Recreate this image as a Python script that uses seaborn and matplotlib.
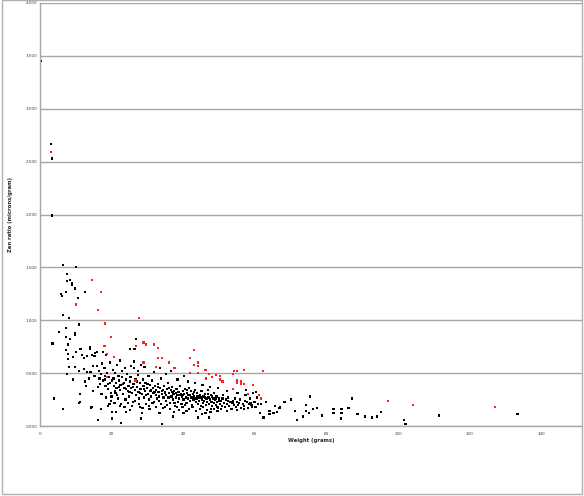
import numpy as np
import pandas as pd
import matplotlib
matplotlib.use("Agg")
import matplotlib.pyplot as plt
import seaborn as sns
from matplotlib.patches import Rectangle

# black points: sparse upper part and outliers
black_top_x = [0.3, 3.1, 3.4, 3.4, 6.4, 10.0, 7.6, 7.5, 8.4, 9.0, 8.9, 9.8, 7.3, 12.6, 5.8, 6.2, 10.6,
               6.4, 8.0, 11.0, 7.3, 5.3, 9.7, 9.8, 7.2, 8.4, 3.5, 7.8, 7.3, 10.1, 7.9, 7.9, 9.3, 12.2,
               11.3, 11.7, 14.0, 14.0, 13.1, 14.6, 15.2, 16.0, 17.7, 18.5, 15.4, 8.2, 9.7, 11.0, 12.3,
               14.9, 15.9, 17.3, 13.1, 14.1, 7.6, 9.3, 12.5, 13.7, 15.2, 16.6, 12.8, 14.7, 16.3, 16.8,
               18.2, 11.1, 3.9, 11.1, 26.9, 25.1, 26.4]
black_top_y = [3.45, 2.67, 2.53, 1.99, 1.52, 1.50, 1.44, 1.37, 1.38, 1.35, 1.33, 1.30, 1.27, 1.27, 1.25, 1.23, 1.21,
               1.05, 1.02, 0.96, 0.93, 0.89, 0.88, 0.86, 0.84, 0.82, 0.78, 0.77, 0.72, 0.70, 0.68, 0.63, 0.65, 0.64,
               0.73, 0.67, 0.75, 0.73, 0.66, 0.67, 0.66, 0.70, 0.70, 0.67, 0.69, 0.56, 0.56, 0.52, 0.54,
               0.57, 0.57, 0.59, 0.51, 0.51, 0.49, 0.44, 0.42, 0.45, 0.47, 0.45, 0.38, 0.33, 0.37, 0.40,
               0.44, 0.30, 0.26, 0.23, 0.82, 0.73, 0.73]

# black points: low band and right tail
black_low_x = [14.3, 6.4, 17.1, 19.4, 20.1, 21.3, 16.1, 20.2, 20.0, 21.0, 11.0, 14.4, 16.2, 19.0, 22.7, 22.3,
               24.1, 25.2, 28.2, 28.4, 27.9, 30.6, 33.4, 34.1, 35.0, 37.1, 37.4, 38.2, 40.1, 40.9, 44.1,
               45.2, 46.2, 47.3, 47.8, 49.6, 52.2, 55.1, 56.9, 58.5, 61.5, 62.4, 61.7, 59.9, 59.2, 59.2,
               62.3, 63.1, 64.1, 64.1, 65.7, 65.2, 66.2, 66.9, 67.1, 68.3, 70.1, 71.2, 71.8, 73.5, 74.2,
               74.2, 75.2, 75.5, 76.2, 77.4, 78.8, 82.0, 82.0, 84.2, 84.2, 84.1, 86.2, 87.2, 88.7, 90.8,
               92.7, 94.2, 95.2, 101.6, 102.1, 111.4, 133.4]
black_low_y = [0.17, 0.16, 0.16, 0.21, 0.13, 0.13, 0.06, 0.07, 0.28, 0.33, 0.22, 0.18, 0.06, 0.19, 0.03, 0.19,
               0.13, 0.15, 0.07, 0.12, 0.18, 0.16, 0.12, 0.02, 0.18, 0.09, 0.13, 0.18, 0.12, 0.14, 0.08,
               0.11, 0.12, 0.08, 0.16, 0.18, 0.14, 0.15, 0.16, 0.21, 0.12, 0.08, 0.21, 0.23, 0.20, 0.18,
               0.08, 0.23, 0.14, 0.11, 0.19, 0.12, 0.13, 0.17, 0.18, 0.23, 0.25, 0.14, 0.06, 0.09, 0.20,
               0.14, 0.12, 0.28, 0.16, 0.17, 0.10, 0.16, 0.12, 0.16, 0.12, 0.07, 0.17, 0.26, 0.11, 0.09,
               0.08, 0.09, 0.13, 0.06, 0.02, 0.10, 0.11]

# black points: main cluster
black_mid_x = [16.5, 17.0, 17.6, 18.0, 18.3, 18.8, 19.0, 19.3, 19.6, 19.9, 20.3, 20.5, 20.7, 21.0, 21.2, 21.4,
               21.6, 21.9, 22.1, 22.3, 22.5, 22.8, 23.0, 23.2, 23.4, 23.6, 23.9, 24.1, 24.3, 24.5, 24.7,
               24.9, 25.1, 25.3, 25.5, 25.7, 25.9, 26.1, 26.3, 26.5, 26.7, 26.9, 27.1, 27.3, 27.5, 27.7,
               27.9, 28.1, 28.3, 28.5, 28.7, 28.9, 29.1, 29.3, 29.5, 29.7, 29.9, 30.1, 30.3, 30.5, 30.7,
               30.9, 31.1, 31.3, 31.5, 31.7, 31.9, 32.1, 32.3, 32.5, 32.7, 32.9, 33.1, 33.3, 33.5, 33.7,
               33.9, 34.1, 34.3, 34.5, 34.7, 34.9, 35.1, 35.3, 35.5, 35.7, 35.9, 36.1, 36.3, 36.5, 36.7,
               36.9, 37.1, 37.3, 37.5, 37.7, 37.9, 38.1, 38.3, 38.5, 38.7, 38.9, 39.1, 39.3, 39.5, 39.7,
               39.9, 40.1, 40.3, 40.5, 40.7, 40.9, 41.1, 41.3, 41.5, 41.7, 41.9, 42.1, 42.3, 42.5, 42.7,
               42.9, 43.1, 43.3, 43.5, 43.7, 43.9, 44.1, 44.3, 44.5, 44.7, 44.9, 45.1, 45.3, 45.5, 45.7,
               45.9, 46.1, 46.3, 46.5, 46.7, 46.9, 47.1, 47.3, 47.5, 47.7, 47.9, 48.1, 48.3, 48.5, 48.7,
               48.9, 49.1, 49.3, 49.5, 49.7, 49.9, 50.2, 50.5, 50.8, 51.1, 51.4, 51.7, 52.0, 52.3, 52.6,
               52.9, 53.2, 53.5, 53.8, 54.1, 54.4, 54.7, 55.0, 55.4, 55.8, 56.2, 56.6, 57.0, 57.4, 57.8,
               58.2, 58.6, 59.0, 59.4, 59.8, 60.2, 60.6, 61.0]
black_mid_y = [0.52, 0.49, 0.43, 0.55, 0.38, 0.50, 0.35, 0.46, 0.41, 0.31, 0.53, 0.45, 0.38, 0.50, 0.41, 0.36,
               0.29, 0.47, 0.43, 0.34, 0.39, 0.52, 0.46, 0.30, 0.41, 0.36, 0.25, 0.44, 0.49, 0.33, 0.38,
               0.28, 0.42, 0.46, 0.36, 0.31, 0.23, 0.40, 0.55, 0.34, 0.44, 0.29, 0.37, 0.48, 0.32, 0.26,
               0.41, 0.35, 0.58, 0.30, 0.44, 0.38, 0.27, 0.33, 0.41, 0.21, 0.36, 0.30, 0.47, 0.25, 0.39,
               0.33, 0.28, 0.43, 0.36, 0.31, 0.23, 0.38, 0.29, 0.34, 0.26, 0.40, 0.32, 0.28, 0.36, 0.45,
               0.21, 0.30, 0.34, 0.27, 0.38, 0.32, 0.24, 0.29, 0.35, 0.41, 0.27, 0.31, 0.22, 0.34, 0.28,
               0.37, 0.25, 0.30, 0.33, 0.19, 0.27, 0.35, 0.29, 0.23, 0.32, 0.26, 0.38, 0.30, 0.21, 0.28,
               0.33, 0.25, 0.30, 0.35, 0.27, 0.22, 0.31, 0.26, 0.29, 0.36, 0.24, 0.33, 0.27, 0.20, 0.30,
               0.25, 0.28, 0.34, 0.23, 0.26, 0.31, 0.21, 0.27, 0.24, 0.29, 0.19, 0.33, 0.25, 0.22, 0.28,
               0.24, 0.30, 0.20, 0.26, 0.23, 0.34, 0.27, 0.21, 0.25, 0.29, 0.23, 0.19, 0.26, 0.31, 0.22,
               0.25, 0.20, 0.28, 0.23, 0.17, 0.26, 0.21, 0.24, 0.19, 0.29, 0.22, 0.18, 0.25, 0.21, 0.27,
               0.19, 0.23, 0.16, 0.22, 0.20, 0.26, 0.18, 0.23, 0.20, 0.25, 0.17, 0.21, 0.19, 0.29, 0.23,
               0.17, 0.26, 0.20, 0.31, 0.23, 0.18, 0.27, 0.21]

# black points: extra layers in the cluster
black_fill_x = [17.2, 18.5, 19.8, 20.8, 21.8, 22.6, 23.6, 24.6, 25.6, 26.6, 27.6, 28.6, 29.6, 30.4, 31.4, 32.4,
                33.2, 34.4, 35.4, 36.4, 37.6, 38.8, 39.8, 40.6, 41.6, 42.6, 43.6, 44.6, 45.6, 46.6, 47.6,
                48.6, 49.6, 50.6,
                18.1, 19.1, 20.1, 21.1, 22.0, 23.1, 24.0, 25.0, 26.0, 27.0, 28.0, 29.0, 30.0, 31.0, 32.0,
                33.0, 34.0, 35.0, 36.0, 37.0, 38.0, 39.0, 40.0, 41.0, 42.0, 43.0, 44.0, 45.0, 46.0, 47.0,
                48.0, 49.0, 50.0, 51.0, 52.5, 54.0, 55.6, 57.2, 58.8,
                19.5, 21.5, 22.4, 23.8, 25.4, 26.2, 27.4, 29.2, 31.8, 33.6, 35.2, 36.6, 38.4, 40.2, 41.4,
                43.2, 45.4, 47.4, 49.8, 52.2, 55.2, 57.6, 60.4]
black_fill_y = [0.30, 0.27, 0.24, 0.22, 0.26, 0.21, 0.18, 0.22, 0.19, 0.24, 0.21, 0.17, 0.29, 0.19, 0.22, 0.18,
                0.24, 0.17, 0.20, 0.16, 0.22, 0.15, 0.18, 0.20, 0.16, 0.18, 0.14, 0.16, 0.18, 0.15, 0.13,
                0.16, 0.14, 0.16,
                0.47, 0.40, 0.43, 0.31, 0.37, 0.40, 0.35, 0.32, 0.37, 0.42, 0.31, 0.35, 0.40, 0.34, 0.32,
                0.37, 0.33, 0.31, 0.36, 0.32, 0.31, 0.29, 0.29, 0.34, 0.29, 0.32, 0.28, 0.27, 0.27, 0.30,
                0.28, 0.26, 0.24, 0.26, 0.24, 0.24, 0.22, 0.24, 0.22,
                0.60, 0.58, 0.62, 0.55, 0.57, 0.61, 0.52, 0.56, 0.51, 0.55, 0.49, 0.52, 0.44, 0.47, 0.42,
                0.41, 0.39, 0.37, 0.36, 0.33, 0.31, 0.34, 0.32]

# red points
red_x = [3.1, 14.6, 17.0, 10.1, 16.2, 18.2, 27.7, 19.9, 18.0, 18.8, 20.7, 26.9, 28.9, 29.6, 31.9, 33.0, 33.0,
         34.1, 28.9, 32.3, 36.0, 37.6, 43.0, 42.0, 44.1, 43.1, 44.2, 44.2, 42.0, 46.2, 47.3, 48.1, 49.1,
         46.4, 50.2, 50.2, 51.0, 54.1, 55.1, 57.0, 54.0, 55.1, 55.0, 56.1, 56.2, 57.0, 53.9, 59.5, 62.2,
         61.1, 61.8, 58.0, 18.7, 26.7, 97.2, 104.2, 127.1]
red_y = [2.59, 1.38, 1.27, 1.15, 1.10, 0.97, 1.02, 0.84, 0.76, 0.68, 0.65, 0.76, 0.79, 0.77, 0.77, 0.74, 0.64,
         0.64, 0.60, 0.56, 0.60, 0.55, 0.72, 0.64, 0.60, 0.58, 0.57, 0.50, 0.50, 0.53, 0.49, 0.46, 0.48,
         0.45, 0.47, 0.44, 0.42, 0.52, 0.52, 0.53, 0.49, 0.43, 0.41, 0.42, 0.40, 0.40, 0.35, 0.39, 0.52,
         0.29, 0.26, 0.30, 0.46, 0.43, 0.24, 0.20, 0.18]

x_ticks = [0, 20, 40, 60, 80, 100, 120, 140]
y_ticks = [0, 0.5, 1.0, 1.5, 2.0, 2.5, 3.0, 3.5, 4.0]

black_x = black_top_x + black_low_x + black_mid_x + black_fill_x
black_y = black_top_y + black_low_y + black_mid_y + black_fill_y
df = pd.DataFrame({
    "weight": black_x + red_x,
    "ratio": black_y + red_y,
    "group": ["normal"] * len(black_x) + ["high"] * len(red_x),
})

sns.set_style("white")
fig = plt.figure(figsize=(5.84, 4.96), dpi=100)
ax = fig.add_axes([40 / 584, 1 - 426 / 496, 542 / 584, 423 / 496])

sns.scatterplot(data=df, x="weight", y="ratio", hue="group",
                palette={"normal": "black", "high": "#ff2020"},
                marker="s", s=2.6, linewidth=0, legend=False, ax=ax)

ax.set_xlim(0, 151.4)
ax.set_ylim(0, 4.0)
ax.set_xticks(x_ticks)
ax.set_xticklabels([str(t) for t in x_ticks])
ax.set_yticks(y_ticks)
ax.set_yticklabels([f"{t:.3f}" for t in y_ticks])
ax.tick_params(axis="both", labelsize=3, colors="#404040", length=2, width=0.6, pad=2)
ax.tick_params(axis="y", length=0)
ax.yaxis.grid(True, color="#a6a6a6", linewidth=1.0)
ax.set_axisbelow(True)
for side in ["top", "right"]:
    ax.spines[side].set_visible(False)
for side in ["left", "bottom"]:
    ax.spines[side].set_color("#a6a6a6")
    ax.spines[side].set_linewidth(1.0)

ax.set_xlabel("Weight (grams)", fontsize=3.8, fontweight="bold", labelpad=2)
ax.set_ylabel("Zen ratio (microns/gram)", fontsize=3.8, fontweight="bold", labelpad=9)

# chart area border
fig.patches.append(Rectangle((0.003, 0.004), 0.994, 0.995, transform=fig.transFigure,
                             fill=False, edgecolor="#b0b0b0", linewidth=1))

fig.savefig("out.png", dpi=100, facecolor="white")
